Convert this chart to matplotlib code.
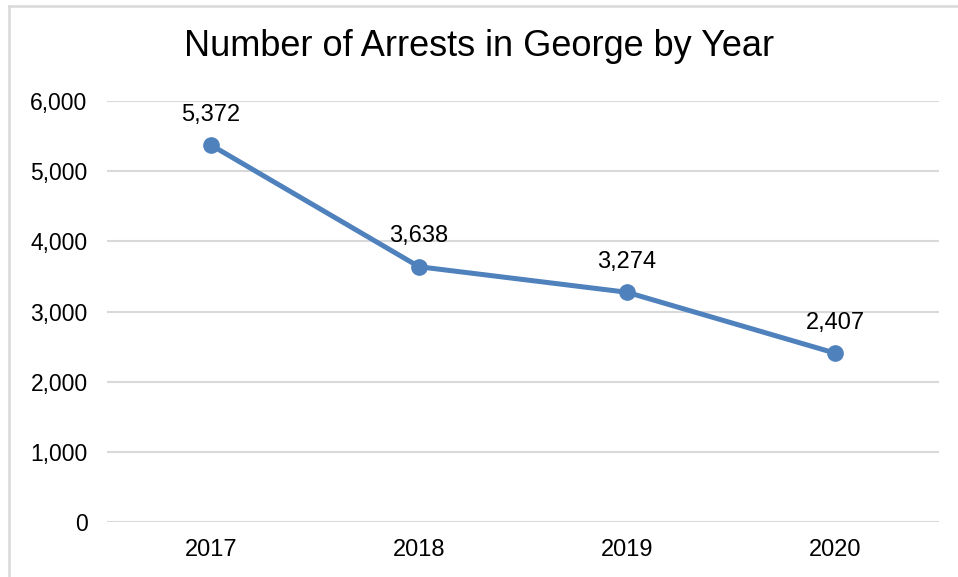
import matplotlib.pyplot as plt
from matplotlib.lines import Line2D
from matplotlib.ticker import FuncFormatter

plt.rcParams['font.family'] = ['Liberation Sans', 'DejaVu Sans']

years = ['2017', '2018', '2019', '2020']
arrests = [5372, 3638, 3274, 2407]

fig = plt.figure(figsize=(9.58, 5.77), dpi=100)
ax = fig.add_axes([107 / 958, 1 - 522 / 577, 832 / 958, 421 / 577])

x = range(len(years))
ax.plot(x, arrests, color='#4f81bd', linewidth=3.6, marker='o', markersize=11, zorder=3)

for i, v in enumerate(arrests):
    ax.annotate(f'{v:,}', (i, v), xytext=(0, 14), textcoords='offset points',
                ha='center', va='bottom', fontsize=17)

ax.set_xlim(-0.5, len(years) - 0.5)
ax.set_ylim(0, 6000)
ax.set_yticks(range(0, 6001, 1000))
ax.yaxis.set_major_formatter(FuncFormatter(lambda v, p: f'{int(v):,}'))
ax.set_xticks(list(x))
ax.set_xticklabels(years)
ax.tick_params(axis='both', length=0, colors='black')
ax.tick_params(axis='y', pad=14, labelsize=16.5)
ax.tick_params(axis='x', pad=12, labelsize=17)
ax.grid(axis='y', color='#d9d9d9', linewidth=1.5)
ax.set_axisbelow(True)
for s in ax.spines.values():
    s.set_visible(False)

fig.text(0.5, 1 - 47 / 577, 'Number of Arrests in George by Year', ha='center', va='center', fontsize=26)

# chart frame: only top and left edges show
fig.lines.append(Line2D([9 / 958, 1], [1 - 6 / 577] * 2, transform=fig.transFigure,
                        color='#d9d9d9', linewidth=1.8))
fig.lines.append(Line2D([9 / 958] * 2, [0, 1 - 6 / 577], transform=fig.transFigure,
                        color='#d9d9d9', linewidth=1.8))

fig.savefig('out.png', dpi=100)
